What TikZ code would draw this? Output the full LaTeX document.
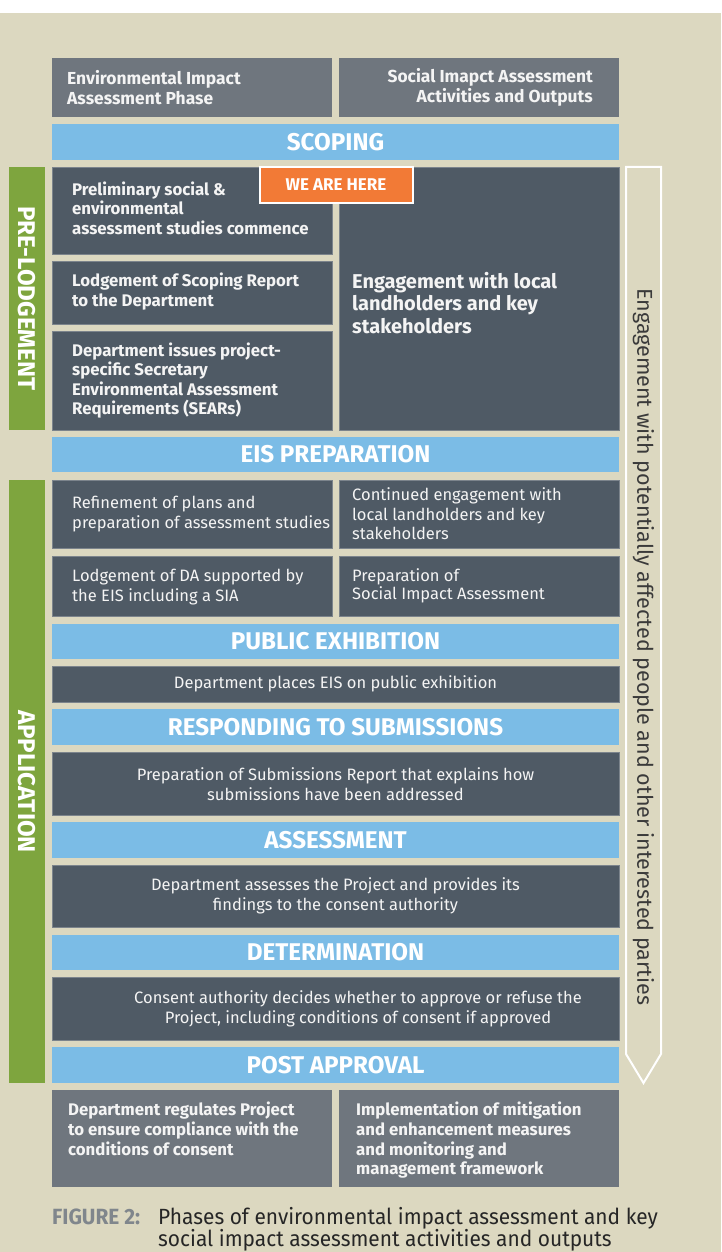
\documentclass[tikz,border=0pt]{standalone}
\usepackage{fontspec}
\setmainfont{Fira Sans}
\newcommand\fsemi{\bfseries}
\newfontfamily\fcond{Fira Sans}[FakeStretch=0.95]
\definecolor{beige}{HTML}{DCD8C0}
\definecolor{dkc}{HTML}{4F5A65}
\definecolor{hdc}{HTML}{6F767E}
\definecolor{bluec}{HTML}{7BBCE6}
\definecolor{greenc}{HTML}{7EA53E}
\definecolor{orangec}{HTML}{F27A36}
\definecolor{edgec}{HTML}{7C848C}
\definecolor{txtc}{HTML}{F4F4F4}
\definecolor{arrtxt}{HTML}{3A3A3A}
\definecolor{capgray}{HTML}{80868C}
\tikzset{
  box/.style 2 args={minimum width=#1pt, minimum height=#2pt, anchor=north west, inner sep=0pt, outer sep=0pt},
  dbox/.style={fill=dkc, draw=edgec, line width=0.5pt},
  hbox/.style={fill=hdc},
  bbar/.style={fill=bluec},
  gbar/.style={fill=greenc},
  semitxt/.style={text=txtc, align=left, anchor=west, inner sep=0pt, font=\fsemi\fontsize{16.8}{19.6}\selectfont},
  regtxt/.style={text=txtc, align=left, anchor=west, inner sep=0pt, font=\fontsize{16.5}{19.6}\selectfont},
  ctrtxt/.style={text=txtc, align=center, inner sep=0pt, font=\fontsize{16.5}{20}\selectfont},
  bartxt/.style={text=white, inner sep=0pt, font=\bfseries\fontsize{24.2}{26}\selectfont},
  sidetxt/.style={text=white, inner sep=0pt, rotate=-90, font=\bfseries\fontsize{24.2}{26}\selectfont},
  captxt/.style={anchor=base west, inner sep=0pt, text=black!85, font=\fcond\fontsize{22}{23}\selectfont},
}
\begin{document}
\begin{tikzpicture}[x=1pt,y=-1pt]
\useasboundingbox (0,0) rectangle (721,1252);
\fill[white] (0,0) rectangle (721,1252);
\fill[beige] (0,13) rectangle (721,1252);

% header
\node[hbox, box={280}{59}] (hl) at (52,58) {};
\node[semitxt, font=\fsemi\fontsize{17.4}{19.5}\selectfont] (hlt) at (67,87.5) {Environmental Impact\\Assessment Phase};
\node[hbox, box={280}{59}] (hr) at (339,58) {};
\node[semitxt, font=\fsemi\fontsize{17.4}{19.5}\selectfont, align=right, anchor=east] (hrt) at (593,87.5) {Social Imapct Assessment\\Activities and Outputs};

% scoping
\node[bbar, box={567}{36}] (scop) at (52,124) {};
\node[bartxt] (scopt) at (335.5,142) {SCOPING};

% pre-lodgement
\node[gbar, box={36}{263}] (pre) at (9,167) {};
\node[sidetxt] (pret) at (27,298.5) {PRE-LODGEMENT};

\node[dbox, box={280}{87}] (p1) at (52,167) {};
\node[semitxt] (p1t) at (72,208) {Preliminary social \&\\environmental\\assessment studies commence};
\node[dbox, box={280}{63}] (p2) at (52,261) {};
\node[semitxt] (p2t) at (72,291.5) {Lodgement of Scoping Report\\to the Department};
\node[dbox, box={280}{99}] (p3) at (52,331) {};
\node[semitxt] (p3t) at (72,380.5) {Department issues project-\\specific Secretary\\Environmental Assessment\\Requirements (SEARs)};

\node[dbox, box={280}{263}] (eng) at (339,167) {};
\node[semitxt, font=\fsemi\fontsize{20}{22.5}\selectfont] (engt) at (352,303) {Engagement with local\\landholders and key\\stakeholders};

% we are here
\node[fill=orangec, draw=white, line width=2pt, minimum width=153pt, minimum height=36pt, inner sep=0pt, text=white, font=\bfseries\fontsize{17}{19}\selectfont] (here) at (336,185) {WE ARE HERE};

% EIS preparation
\node[bbar, box={567}{35}] (eis) at (52,437) {};
\node[bartxt] (eist) at (335.5,454.5) {EIS PREPARATION};

% application
\node[gbar, box={36}{603}] (app) at (9,480) {};
\node[sidetxt] (appt) at (27,781.5) {APPLICATION};

\node[dbox, box={280}{68}] (a1) at (52,480) {};
\node[regtxt] (a1t) at (72,514) {Refinement of plans and\\preparation of assessment studies};
\node[dbox, box={280}{68}] (a2) at (339,480) {};
\node[regtxt] (a2t) at (352,514) {Continued engagement with\\local landholders and key\\stakeholders};
\node[dbox, box={280}{60}] (a3) at (52,556) {};
\node[regtxt] (a3t) at (72,587) {Lodgement of DA supported by\\the EIS including a SIA};
\node[dbox, box={280}{60}] (a4) at (339,556) {};
\node[regtxt, font=\fontsize{16.5}{18.5}\selectfont] (a4t) at (352,586) {Preparation of\\Social Impact Assessment};

\node[bbar, box={567}{35}] (pub) at (52,624) {};
\node[bartxt] (pubt) at (335.5,641.5) {PUBLIC EXHIBITION};
\node[dbox, box={567}{36}] (pubb) at (52,666) {};
\node[ctrtxt] (pubbt) at (335.5,684) {Department places EIS on public exhibition};

\node[bbar, box={567}{36}] (resp) at (52,709) {};
\node[bartxt] (respt) at (335.5,727) {RESPONDING TO SUBMISSIONS};
\node[dbox, box={567}{63}] (respb) at (52,752) {};
\node[ctrtxt] (respbt) at (335.5,784) {Preparation of Submissions Report that explains how\\submissions have been addressed};

\node[bbar, box={567}{36}] (ass) at (52,822) {};
\node[bartxt] (asst) at (335.5,840) {ASSESSMENT};
\node[dbox, box={567}{62}] (assb) at (52,865) {};
\node[ctrtxt] (assbt) at (335.5,896) {Department assesses the Project and provides its\\findings to the consent authority};

\node[bbar, box={567}{35}] (det) at (52,935) {};
\node[bartxt] (dett) at (335.5,952.5) {DETERMINATION};
\node[dbox, box={567}{63}] (detb) at (52,977) {};
\node[ctrtxt] (detbt) at (358,1008.5) {Consent authority decides whether to approve or refuse the\\Project, including conditions of consent if approved};

\node[bbar, box={567}{36}] (post) at (52,1047) {};
\node[bartxt] (postt) at (335.5,1065) {POST APPROVAL};

\node[hbox, box={280}{97}] (b1) at (52,1090) {};
\node[semitxt, anchor=north west] (b1t) at (68,1102) {Department regulates Project\\to ensure compliance with the\\conditions of consent};
\node[hbox, box={280}{97}] (b2) at (339,1090) {};
\node[semitxt, anchor=north west] (b2t) at (356,1102) {Implementation of mitigation\\and enhancement measures\\and monitoring and\\management framework};

% side arrow
\draw[white, line width=2pt, fill=beige] (626,167) -- (661,167) -- (661,1054) -- (643.5,1083) -- (626,1054) -- cycle;
\node[text=arrtxt, rotate=-90, inner sep=0pt, font=\fontsize{21.5}{24}\selectfont] (arrt) at (643.5,647) {Engagement with potentially affected people and other interested parties};

% caption
\node[captxt, text=capgray, font=\fcond\bfseries\fontsize{22}{23}\selectfont] (figl) at (52,1224) {FIGURE 2:};
\node[captxt] (figt1) at (158,1224) {Phases of environmental impact assessment and key};
\node[captxt] (figt2) at (158,1246) {social impact assessment activities and outputs};
\end{tikzpicture}
\end{document}
